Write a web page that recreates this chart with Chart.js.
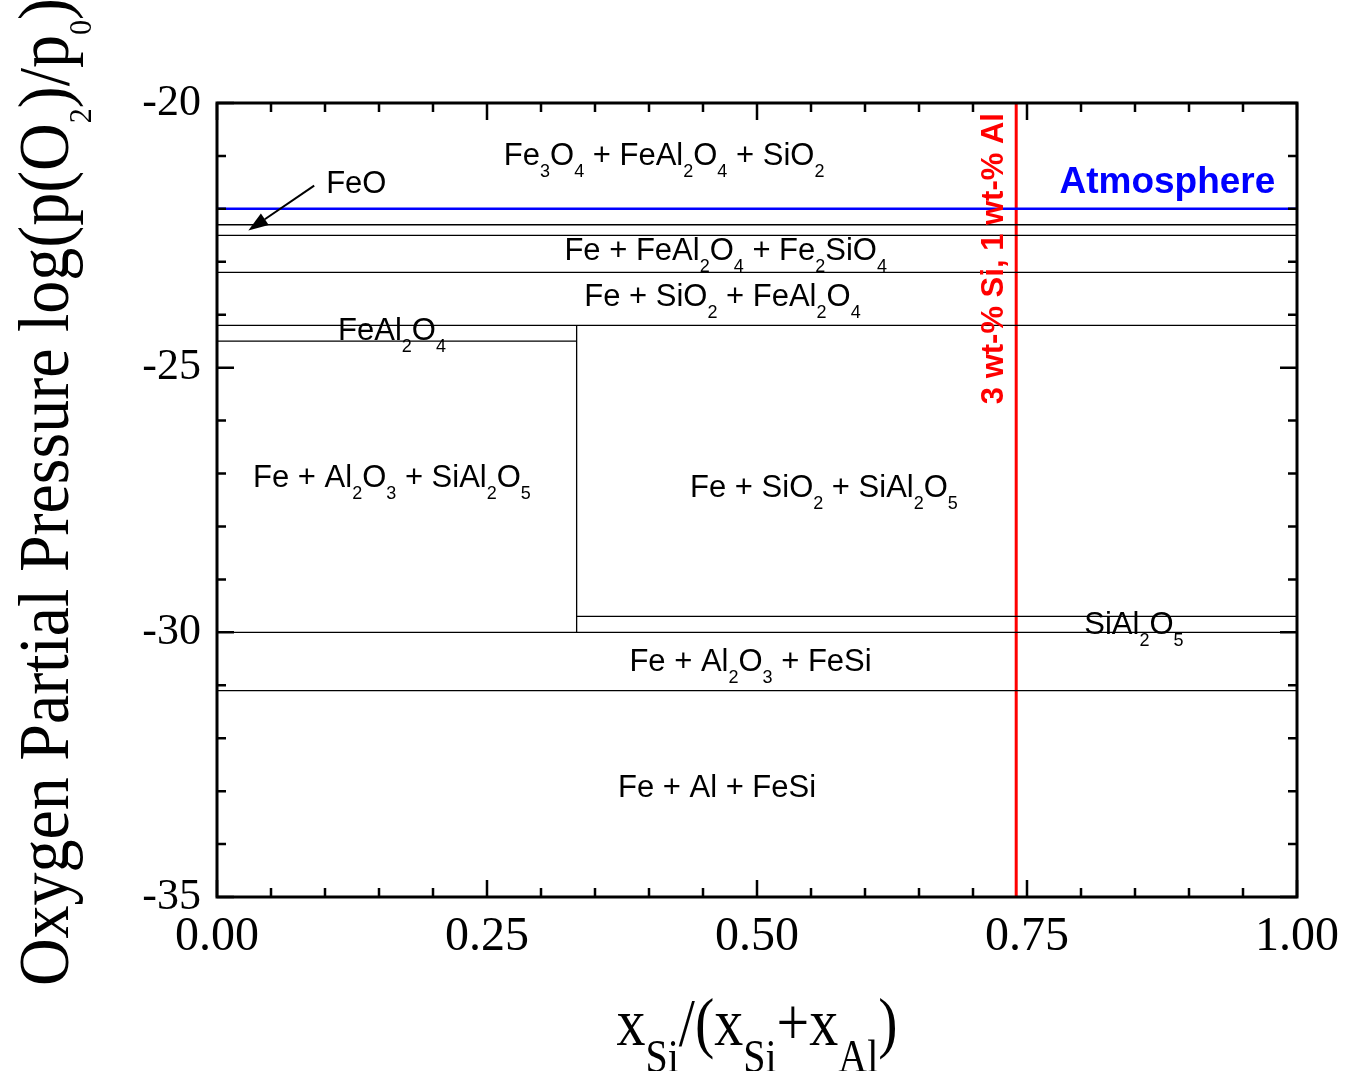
<!DOCTYPE html>
<html>
<head>
<meta charset="utf-8">
<script src="https://cdn.jsdelivr.net/npm/chart.js@4/dist/chart.umd.min.js"></script>
<style>
  html, body { margin: 0; padding: 0; background: #fff; }
  #wrap { width: 1346px; height: 1071px; }
</style>
</head>
<body>
<div id="wrap"><canvas id="diagram"></canvas></div>
<script>
// phase boundaries: log p(O2) level and the x-range they run over
var boundaryY    = [-22.3, -22.5, -23.2, -24.2, -24.5, -29.7, -30.0, -31.1];
var boundaryFrom = [0,     0,     0,     0,     0,     0.333, 0,     0];
var boundaryTo   = [1,     1,     1,     1,     0.333, 1,     1,     1];

// vertical boundary between the Al2O3 and SiO2 fields
var wallX = 0.333;
var wallTop = -24.2;
var wallBottom = -30.0;

var atmosphereY = -22.0;   // furnace atmosphere
var alloyX = 0.74;         // 3 wt-% Si, 1 wt-% Al

// field labels, "_" marks a subscript
var fieldText = [
    "Fe_3O_4 + FeAl_2O_4 + SiO_2",
    "FeO",
    "Fe + FeAl_2O_4 + Fe_2SiO_4",
    "Fe + SiO_2 + FeAl_2O_4",
    "FeAl_2O_4",
    "Fe + Al_2O_3 + SiAl_2O_5",
    "Fe + SiO_2 + SiAl_2O_5",
    "SiAl_2O_5",
    "Fe + Al_2O_3 + FeSi",
    "Fe + Al + FeSi"
];
var fieldX = [0.414, 0.129, 0.471, 0.468, 0.162, 0.162, 0.562, 0.849, 0.494, 0.463];
var fieldY = [-21.17, -21.70, -22.97, -23.83, -24.47, -27.25, -27.44, -30.03, -30.73, -33.11];

var arrowFrom = [0.090, -21.56];
var arrowTo = [0.029, -22.41];

var xTicks = [0, 0.25, 0.5, 0.75, 1];
var yTicks = [-20, -25, -30, -35];

function parseRich(s) {
    var runs = [], buf = "", i = 0;
    while (i < s.length) {
        if (s[i] === "_") {
            if (buf) runs.push({ t: buf, sub: false });
            buf = "";
            i++;
            var t;
            if (s[i] === "{") {
                var j = s.indexOf("}", i);
                t = s.slice(i + 1, j);
                i = j + 1;
            } else {
                t = s[i];
                i++;
            }
            runs.push({ t: t, sub: true });
        } else {
            buf += s[i];
            i++;
        }
    }
    if (buf) runs.push({ t: buf, sub: false });
    return runs;
}

// draws text with subscripts, centred on x, baseline at y
function drawRich(ctx, s, x, y, st) {
    var runs = parseRich(s);
    var w = 0;
    runs.forEach(function(r) {
        ctx.font = (st.weight || "") + " " + (r.sub ? st.sub : st.size) + "px " + st.family;
        r.w = ctx.measureText(r.t).width;
        w += r.w;
    });
    var cx = x - w / 2;
    ctx.fillStyle = st.color;
    ctx.textAlign = "left";
    ctx.textBaseline = "alphabetic";
    runs.forEach(function(r) {
        ctx.font = (st.weight || "") + " " + (r.sub ? st.sub : st.size) + "px " + st.family;
        ctx.fillText(r.t, cx, r.sub ? y + st.drop : y);
        cx += r.w;
    });
}

var datasets = [];
boundaryY.forEach(function(v, i) {
    datasets.push({
        data: [{ x: boundaryFrom[i], y: v }, { x: boundaryTo[i], y: v }],
        borderColor: "#000", borderWidth: 1.3
    });
});
datasets.push({
    data: [{ x: wallX, y: wallTop }, { x: wallX, y: wallBottom }],
    borderColor: "#000", borderWidth: 1.3
});
datasets.push({
    data: [{ x: 0, y: atmosphereY }, { x: 1, y: atmosphereY }],
    borderColor: "#0000ff", borderWidth: 2.5
});
datasets.push({
    data: [{ x: alloyX, y: -20 }, { x: alloyX, y: -35 }],
    borderColor: "#ff0000", borderWidth: 3
});

var overlay = {
    id: "overlay",
    afterDatasetsDraw: function(chart) {
        var ctx = chart.ctx, a = chart.chartArea;
        var xs = chart.scales.x, ys = chart.scales.y;
        ctx.save();

        // labels inside the diagram
        var sans = { family: "'Liberation Sans', Arial, sans-serif", size: 31, sub: 18, drop: 12, color: "#000" };
        fieldText.forEach(function(t, i) {
            drawRich(ctx, t, xs.getPixelForValue(fieldX[i]), ys.getPixelForValue(fieldY[i]), sans);
        });
        drawRich(ctx, "Atmosphere", xs.getPixelForValue(0.880), ys.getPixelForValue(-21.70),
            { family: "'Liberation Sans', Arial, sans-serif", weight: "bold", size: 37, sub: 20, drop: 0, color: "#0000ff" });

        ctx.save();
        ctx.translate(xs.getPixelForValue(0.728), ys.getPixelForValue(-22.94));
        ctx.rotate(-Math.PI / 2);
        drawRich(ctx, "3 wt-% Si, 1 wt-% Al", 0, 0,
            { family: "'Liberation Sans', Arial, sans-serif", weight: "bold", size: 31, sub: 20, drop: 0, color: "#ff0000" });
        ctx.restore();

        // arrow pointing at the thin FeO band
        var x0 = xs.getPixelForValue(arrowFrom[0]), y0 = ys.getPixelForValue(arrowFrom[1]);
        var x1 = xs.getPixelForValue(arrowTo[0]), y1 = ys.getPixelForValue(arrowTo[1]);
        var ang = Math.atan2(y1 - y0, x1 - x0);
        var hl = 20, hw = 7;
        ctx.strokeStyle = "#000";
        ctx.lineWidth = 2;
        ctx.beginPath();
        ctx.moveTo(x0, y0);
        ctx.lineTo(x1 - Math.cos(ang) * hl, y1 - Math.sin(ang) * hl);
        ctx.stroke();
        ctx.fillStyle = "#000";
        ctx.beginPath();
        ctx.moveTo(x1, y1);
        ctx.lineTo(x1 - Math.cos(ang) * hl - Math.sin(ang) * hw, y1 - Math.sin(ang) * hl + Math.cos(ang) * hw);
        ctx.lineTo(x1 - Math.cos(ang) * hl + Math.sin(ang) * hw, y1 - Math.sin(ang) * hl - Math.cos(ang) * hw);
        ctx.closePath();
        ctx.fill();

        // inward ticks on all four sides
        ctx.strokeStyle = "#000";
        ctx.lineWidth = 2.5;
        ctx.beginPath();
        for (var i = 0; i <= 20; i++) {
            var v = i * 0.05;
            var px = xs.getPixelForValue(v);
            var len = (i % 5 === 0) ? 17 : 9;
            ctx.moveTo(px, a.bottom); ctx.lineTo(px, a.bottom - len);
            ctx.moveTo(px, a.top); ctx.lineTo(px, a.top + len);
        }
        for (var k = -35; k <= -20; k++) {
            var py = ys.getPixelForValue(k);
            var ln = (k % 5 === 0) ? 17 : 9;
            ctx.moveTo(a.left, py); ctx.lineTo(a.left + ln, py);
            ctx.moveTo(a.right, py); ctx.lineTo(a.right - ln, py);
        }
        ctx.stroke();

        // frame
        ctx.lineWidth = 3;
        ctx.strokeRect(a.left, a.top, a.right - a.left, a.bottom - a.top);

        // axis titles
        var serif = "'Liberation Serif', 'Times New Roman', serif";
        ctx.save();
        ctx.translate((a.left + a.right) / 2, 1045);
        ctx.scale(1, 1.17);
        drawRich(ctx, "x_{Si}/(x_{Si}+x_{Al})", 0, 0,
            { family: serif, size: 58, sub: 40, drop: 23, color: "#000" });
        ctx.restore();

        ctx.save();
        ctx.translate(68, (a.top + a.bottom) / 2 - 8);
        ctx.rotate(-Math.PI / 2);
        ctx.scale(0.97, 1.05);
        drawRich(ctx, "Oxygen Partial Pressure log(p(O_2)/p_0)", 0, 0,
            { family: serif, size: 68, sub: 31, drop: 22, color: "#000" });
        ctx.restore();

        ctx.restore();
    }
};

new Chart(document.getElementById("diagram"), {
    type: "line",
    data: { datasets: datasets },
    plugins: [overlay],
    options: {
        responsive: true,
        maintainAspectRatio: false,
        animation: false,
        layout: { padding: { left: 0, top: 103, right: 49, bottom: 0 } },
        elements: { point: { radius: 0 }, line: { tension: 0 } },
        plugins: { legend: { display: false }, tooltip: { enabled: false } },
        scales: {
            x: {
                type: "linear", min: 0, max: 1,
                afterFit: function(s) { s.height = 174; s.paddingLeft = 0; s.paddingRight = 0; },
                afterBuildTicks: function(s) { s.ticks = xTicks.map(function(v) { return { value: v }; }); },
                grid: { display: false, drawTicks: false },
                border: { display: false },
                ticks: {
                    padding: 12, color: "#000",
                    font: { family: "'Liberation Serif', 'Times New Roman', serif", size: 48 },
                    callback: function(v) { return v.toFixed(2); }
                }
            },
            y: {
                type: "linear", min: -35, max: -20,
                afterFit: function(s) { s.width = 217; },
                afterBuildTicks: function(s) { s.ticks = yTicks.map(function(v) { return { value: v }; }); },
                grid: { display: false, drawTicks: false },
                border: { display: false },
                ticks: {
                    padding: 16, color: "#000",
                    font: { family: "'Liberation Serif', 'Times New Roman', serif", size: 44 },
                    callback: function(v) { return String(v); }
                }
            }
        }
    }
});
</script>
</body>
</html>
